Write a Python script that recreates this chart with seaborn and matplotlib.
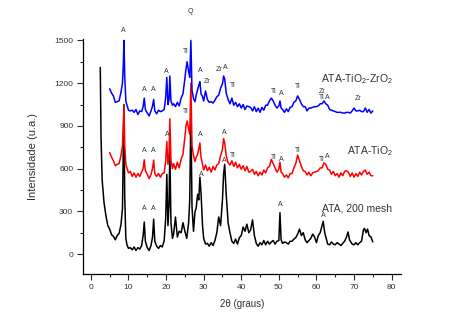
import matplotlib
matplotlib.use("Agg")
import matplotlib.pyplot as plt
import seaborn as sns
import pandas as pd
from matplotlib.ticker import MultipleLocator

# ---------------- data ----------------
x_ti = [5, 5.5, 6, 6.5, 7, 7.5, 8, 8.4, 8.6, 8.8,
        9.0, 9.3, 9.6, 10, 10.5, 11, 11.5, 12, 12.5, 13,
        13.5, 13.9, 14.2, 14.5, 15, 15.5, 16, 16.4, 16.7, 17.0,
        17.5, 18, 18.5, 19, 19.5, 19.9, 20.2, 20.5, 20.8, 21.0,
        21.3, 21.7, 22, 22.5, 23, 23.5, 24, 24.5, 25, 25.3,
        25.6, 26, 26.3, 26.6, 26.9, 27.3, 27.7, 28, 28.4, 28.7,
        29.0, 29.3, 29.7, 30, 30.5, 31, 31.5, 32, 32.5, 33,
        33.5, 34, 34.5, 35, 35.3, 35.6, 36, 36.5, 37, 37.5,
        38, 38.5, 39, 39.5, 40, 40.5, 41, 41.5, 42, 42.5,
        43, 43.5, 44, 44.5, 45, 45.5, 46, 46.5, 47, 47.5,
        48, 48.5, 49, 49.5, 50, 50.3, 50.6, 51, 51.5, 52,
        52.5, 53, 53.5, 54, 54.5, 55, 55.5, 56, 56.5, 57,
        57.5, 58, 58.5, 59, 59.5, 60, 60.5, 61, 61.5, 62,
        62.5, 63, 63.5, 64, 64.5, 65, 65.5, 66, 66.5, 67,
        67.5, 68, 68.5, 69, 69.5, 70, 70.5, 71, 71.5, 72,
        72.5, 73, 73.5, 74, 74.5, 75]

y_ti = [712, 680, 655, 620, 630, 635, 690, 760, 900, 1040,
        760, 630, 605, 570, 580, 545, 570, 540, 565, 545,
        575, 600, 662, 585, 560, 530, 560, 600, 660, 565,
        545, 565, 540, 565, 570, 650, 790, 630, 700, 950,
        660, 600, 635, 595, 645, 605, 665, 700, 820, 900,
        935, 880, 840, 1200, 760, 690, 650, 680, 700, 740,
        780, 680, 630, 590, 625, 585, 610, 575, 615, 590,
        625, 635, 690, 735, 810, 780, 690, 640, 625, 655,
        615, 645, 605, 630, 595, 620, 585, 615, 575, 580,
        595, 560, 580, 550, 575, 555, 590, 570, 605, 615,
        665, 635, 605, 575, 595, 645, 575, 565, 540, 555,
        535, 565, 565, 605, 635, 695, 655, 615, 585, 580,
        555, 575, 550, 570, 575, 580, 585, 605, 605, 640,
        630, 595, 590, 560, 580, 550, 565, 540, 570, 550,
        580, 585, 575, 545, 570, 540, 565, 545, 575, 555,
        580, 590, 560, 575, 550, 550]

y_tizr = [1160, 1130, 1110, 1065, 1070, 1075, 1135, 1200, 1310, 1500,
          1250, 1075, 1045, 1010, 1005, 1010, 995, 1015, 980, 1005,
          1000, 1035, 1095, 1015, 990, 970, 1005, 1040, 1085, 1005,
          985, 1010, 1000, 1005, 1015, 1100, 1240, 1050, 1085, 1250,
          1075, 1045, 1055, 1035, 1065, 1040, 1095, 1125, 1230, 1300,
          1350, 1280, 1240, 1500, 1150, 1090, 1070, 1115, 1155, 1185,
          1210, 1125, 1105, 1075, 1145, 1085, 1065, 1070, 1060, 1080,
          1105, 1115, 1165, 1195, 1250, 1230, 1130, 1085, 1055, 1095,
          1045, 1065, 1035, 1055, 1025, 1050, 1015, 1040, 1035, 1030,
          1005, 1035, 1000, 1025, 995, 1030, 1010, 1045, 1045, 1075,
          1095, 1075, 1045, 1025, 1040, 1075, 1025, 1015, 995, 1020,
          1000, 1030, 1035, 1065, 1075, 1110, 1085, 1055, 1035, 1035,
          1005, 1025, 1025, 1030, 1035, 1035, 1040, 1055, 1055, 1075,
          1055, 1045, 1015, 1010, 1005, 1000, 995, 995, 995, 990,
          990, 995, 995, 990, 1005, 1025, 1005, 1005, 1010, 1000,
          1000, 1025, 995, 1015, 990, 1005]

x_ata = [2.5, 2.7, 3.0, 3.5, 4, 4.5, 5, 5.5, 6, 6.5,
         7, 7.5, 8, 8.4, 8.6, 8.8, 9.0, 9.3, 9.6, 10,
         10.5, 11, 11.5, 12, 12.5, 13, 13.5, 13.9, 14.2, 14.5,
         15, 15.5, 16, 16.4, 16.7, 17.0, 17.5, 18, 18.5, 19,
         19.5, 19.9, 20.2, 20.5, 20.8, 21.0, 21.3, 21.7, 22, 22.5,
         23, 23.5, 24, 24.5, 25, 25.5, 26, 26.3, 26.6, 26.9,
         27.3, 27.7, 28, 28.4, 28.7, 29.0, 29.3, 29.7, 30, 30.5,
         31, 31.5, 32, 32.5, 33, 33.5, 34, 34.5, 35, 35.3,
         35.6, 36, 36.5, 37, 37.5, 38, 38.5, 39, 39.5, 40,
         40.5, 41, 41.5, 42, 42.5, 43, 43.5, 44, 44.5, 45,
         45.5, 46, 46.5, 47, 47.5, 48, 48.5, 49, 49.5, 50,
         50.3, 50.6, 51, 51.5, 52, 52.5, 53, 53.5, 54, 54.5,
         55, 55.5, 56, 56.5, 57, 57.5, 58, 58.5, 59, 59.5,
         60, 60.5, 61, 61.5, 61.8, 62.2, 62.5, 63, 63.5, 64,
         64.5, 65, 65.5, 66, 66.5, 67, 67.5, 68, 68.4, 68.8,
         69.5, 70, 70.5, 71, 71.5, 72, 72.5, 72.8, 73.2, 73.6,
         74, 74.5, 75]

y_ata = [1310, 820, 520, 360, 270, 200, 175, 135, 125, 100,
         130, 145, 205, 320, 700, 1050, 400, 110, 65, 40,
         45, 30, 50, 25, 45, 35, 60, 130, 225, 90,
         45, 25, 60, 120, 245, 90, 55, 40, 60, 50,
         95, 250, 560, 200, 350, 740, 220, 110, 140, 260,
         120, 160, 150, 220, 160, 110, 220, 380, 1000, 330,
         160, 300, 320, 420, 380, 540, 430, 200, 110, 70,
         75, 55, 80, 60, 95, 150, 260, 200, 380, 560,
         630, 420, 220, 150, 90, 75, 105, 70, 115, 130,
         190, 160, 210, 150, 170, 240, 130, 75, 55, 80,
         65, 95, 65, 90, 70, 85, 95, 70, 90, 95,
         290, 100, 75, 85, 80, 70, 90, 90, 105, 115,
         140, 175, 130, 150, 100, 80, 95, 110, 140, 120,
         80, 130, 150, 200, 230, 150, 120, 70, 65, 85,
         70, 65, 80, 70, 60, 75, 90, 120, 155, 100,
         70, 65, 80, 65, 80, 90, 170, 180, 150, 175,
         130, 120, 85]

# peak labels (phase, 2theta, label height)
lab_tizr = [("A", 8.5, 1545), ("Q", 26.6, 1680), ("A", 14.2, 1130), ("A", 16.7, 1130),
            ("A", 20.0, 1255), ("Ti", 25.2, 1400), ("A", 29.0, 1265), ("Zr", 30.8, 1185),
            ("Zr", 34.2, 1270), ("A", 35.8, 1285), ("Ti", 37.8, 1160),
            ("Ti", 48.7, 1115), ("A", 50.6, 1100), ("Ti", 55.1, 1150),
            ("Zr", 61.4, 1120), ("Ti", 61.5, 1072), ("A", 63.0, 1075), ("Zr", 71.0, 1067)]
lab_ti = [("A", 14.2, 705), ("A", 16.7, 705), ("A", 20.2, 816), ("Ti", 25.2, 977),
          ("A", 29.0, 816), ("A", 35.5, 830), ("Ti", 37.8, 670),
          ("Ti", 48.6, 656), ("A", 50.6, 640), ("Ti", 55.0, 705),
          ("Ti", 61.5, 640), ("A", 62.9, 663)]
lab_ata = [("A", 14.2, 293), ("A", 16.7, 295), ("A", 29.3, 535), ("A", 35.4, 635),
           ("A", 50.4, 320), ("A", 61.9, 245)]

series_names = ["ATA-TiO$_2$-ZrO$_2$", "ATA-TiO$_2$", "ATA, 200 mesh"]

# ---------------- plot ----------------
sns.set_theme(style="ticks")
plt.rcParams["font.family"] = ["Liberation Sans", "DejaVu Sans"]
plt.rcParams["mathtext.default"] = "regular"

fig = plt.figure(figsize=(4.67, 3.31), dpi=100)
ax = fig.add_axes([0.1777, 0.1722, 0.681, 0.710])

df_ata = pd.DataFrame({"x": x_ata, "y": y_ata})
df_ti = pd.DataFrame({"x": x_ti, "y": y_ti})
df_tizr = pd.DataFrame({"x": x_ti, "y": y_tizr})

sns.lineplot(data=df_ata, x="x", y="y", ax=ax, color="black", lw=1.1, sort=False,
             estimator=None)
sns.lineplot(data=df_ti, x="x", y="y", ax=ax, color="#ff0000", lw=1.1, sort=False,
             estimator=None)
sns.lineplot(data=df_tizr, x="x", y="y", ax=ax, color="#0000ff", lw=1.1, sort=False,
             estimator=None)

for labs in (lab_tizr, lab_ti, lab_ata):
    for t, xx, yy in labs:
        ax.text(xx, yy, t, fontsize=5, color="#333333", ha="center", va="bottom",
                clip_on=False)

ax.text(61.2, 1228, series_names[0], fontsize=7.5, color="#333333", va="center")
ax.text(68.0, 725, series_names[1], fontsize=7.5, color="#333333", va="center")
ax.text(61.4, 322, series_names[2], fontsize=7.5, color="#333333", va="center")

ax.set_xlim(-2.1, 82.5)
ax.set_ylim(-140, 1510)
ax.xaxis.set_major_locator(MultipleLocator(10))
ax.xaxis.set_minor_locator(MultipleLocator(5))
ax.yaxis.set_major_locator(MultipleLocator(300))
ax.yaxis.set_minor_locator(MultipleLocator(150))
ax.tick_params(which="major", direction="out", length=4, width=0.8, labelsize=6,
               labelcolor="#333333", pad=3)
ax.tick_params(which="minor", direction="out", length=2.5, width=0.8)
for s in ("top", "right"):
    ax.spines[s].set_visible(False)
for s in ("left", "bottom"):
    ax.spines[s].set_linewidth(0.9)
    ax.spines[s].set_color("black")

ax.set_xlabel("2θ (graus)", fontsize=7, color="#333333", labelpad=6)
ax.set_ylabel("Intensidade (u.a.)", fontsize=8, color="#333333", labelpad=12)

fig.savefig("out.png", dpi=100)
